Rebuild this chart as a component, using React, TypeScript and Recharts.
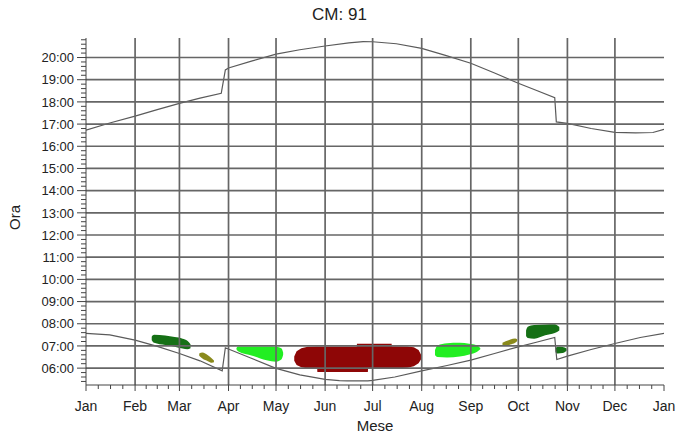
import {
  ComposedChart,
  Line,
  Area,
  XAxis,
  YAxis,
  ReferenceLine,
} from 'recharts'

// Month starts (day of year) and labels
const monthDays = [0, 31, 59, 90, 120, 151, 181, 212, 243, 273, 304, 334, 365]
const monthLabels = ['Jan', 'Feb', 'Mar', 'Apr', 'May', 'Jun', 'Jul', 'Aug', 'Sep', 'Oct', 'Nov', 'Dec', 'Jan']

// Hour grid and labels
const hourTicks = [6, 7, 8, 9, 10, 11, 12, 13, 14, 15, 16, 17, 18, 19, 20]
const hourLabels = ['06:00', '07:00', '08:00', '09:00', '10:00', '11:00', '12:00', '13:00', '14:00', '15:00', '16:00', '17:00', '18:00', '19:00', '20:00']

// Upper curve (sunset)
const sunsetDays = [0, 15, 31, 45, 59, 72, 85.4, 88, 90, 105, 120, 135, 151, 166, 175, 181, 196, 212, 227, 243, 258, 273, 285, 296, 297, 304, 319, 334, 347, 358, 365]
const sunsetHours = [16.73, 17.05, 17.36, 17.65, 17.93, 18.17, 18.39, 19.44, 19.53, 19.85, 20.15, 20.35, 20.52, 20.66, 20.72, 20.71, 20.62, 20.41, 20.1, 19.74, 19.3, 18.84, 18.5, 18.19, 17.1, 17.03, 16.8, 16.63, 16.6, 16.62, 16.76]

// Lower curve (sunrise)
const sunriseDays = [0, 15, 31, 45, 59, 72, 86, 88, 104, 120, 135, 151, 160, 165, 178, 181, 195, 212, 228, 243, 258, 273, 285, 296, 297.3, 304, 319, 334, 350, 365]
const sunriseHours = [7.57, 7.5, 7.26, 6.98, 6.66, 6.33, 5.88, 6.92, 6.46, 5.99, 5.7, 5.49, 5.44, 5.43, 5.43, 5.45, 5.6, 5.88, 6.12, 6.36, 6.66, 6.96, 7.18, 7.38, 6.39, 6.54, 6.84, 7.11, 7.38, 7.57]

// Blobs: day, low, high
const febGreenDays = [41.5, 43, 50, 56, 61, 64, 66]
const febGreenHigh = [7.42, 7.5, 7.47, 7.4, 7.33, 7.24, 7.08]
const febGreenLow = [7.26, 7.14, 7.04, 6.96, 6.88, 6.85, 6.9]

const marOliveDays = [71.5, 73.5, 77, 79.5, 80.8]
const marOliveHigh = [6.66, 6.7, 6.58, 6.44, 6.34]
const marOliveLow = [6.56, 6.43, 6.31, 6.24, 6.26]

const aprLimeDays = [95, 96, 105, 114, 120, 123.5, 124.5]
const aprLimeHigh = [6.9, 6.98, 6.98, 6.98, 6.96, 6.88, 6.7]
const aprLimeLow = [6.85, 6.76, 6.56, 6.35, 6.29, 6.4, 6.6]

const summerRedDays = [131.5, 133, 136, 140, 146, 146.1, 171, 171.1, 178, 178.1, 193, 193.1, 203, 207, 210, 212]
const summerRedHigh = [6.52, 6.76, 6.9, 6.96, 6.98, 6.98, 6.98, 7.1, 7.1, 7.1, 7.1, 6.99, 6.98, 6.94, 6.82, 6.55]
const summerRedLow = [6.33, 6.14, 6.04, 5.98, 5.96, 5.83, 5.83, 5.83, 5.83, 5.97, 5.98, 5.98, 6.02, 6.08, 6.22, 6.45]

const augLimeDays = [220.4, 222, 228, 236, 242, 247, 249]
const augLimeHigh = [6.82, 7.02, 7.12, 7.14, 7.1, 7.02, 6.9]
const augLimeLow = [6.58, 6.5, 6.48, 6.52, 6.62, 6.74, 6.85]

const sepOliveDays = [263, 265, 268, 271, 272.3]
const sepOliveHigh = [7.14, 7.21, 7.29, 7.34, 7.3]
const sepOliveLow = [7.04, 7.0, 7.06, 7.14, 7.22]

const octGreenDays = [277.9, 279, 283, 290, 296, 298.9]
const octGreenHigh = [7.7, 7.86, 7.94, 7.97, 7.98, 7.85]
const octGreenLow = [7.45, 7.36, 7.33, 7.48, 7.58, 7.7]

const novGreenDays = [296.5, 298, 301, 303.5]
const novGreenHigh = [6.9, 6.96, 6.95, 6.88]
const novGreenLow = [6.72, 6.66, 6.68, 6.78]

const toLine = (days: number[], hours: number[]) => days.map((d, i) => ({ d, h: hours[i] }))
const toRange = (days: number[], low: number[], high: number[]) =>
  days.map((d, i) => ({ d, r: [low[i], high[i]] }))

const blobs = [
  { data: toRange(febGreenDays, febGreenLow, febGreenHigh), color: '#157015', type: 'monotone' },
  { data: toRange(marOliveDays, marOliveLow, marOliveHigh), color: '#8a8a1c', type: 'monotone' },
  { data: toRange(aprLimeDays, aprLimeLow, aprLimeHigh), color: '#22ee22', type: 'monotone' },
  { data: toRange(summerRedDays, summerRedLow, summerRedHigh), color: '#8e0606', type: 'linear' },
  { data: toRange(augLimeDays, augLimeLow, augLimeHigh), color: '#22ee22', type: 'monotone' },
  { data: toRange(sepOliveDays, sepOliveLow, sepOliveHigh), color: '#8a8a1c', type: 'monotone' },
  { data: toRange(octGreenDays, octGreenLow, octGreenHigh), color: '#157015', type: 'monotone' },
  { data: toRange(novGreenDays, novGreenLow, novGreenHigh), color: '#157015', type: 'monotone' },
]

// tick positions: months split in quarters, hours split in fifths
const xTicks: number[] = []
for (let i = 0; i < 12; i++) {
  const len = monthDays[i + 1] - monthDays[i]
  for (let k = 0; k < 4; k++) xTicks.push(monthDays[i] + (k * len) / 4)
}
xTicks.push(365)

const Y_MIN = 5.24
const Y_MAX = 20.88
const yTicks: number[] = []
for (let v = 27; v <= 104; v++) yTicks.push(Math.round(v * 2) / 10)

const font = '"Liberation Sans", Arial, sans-serif'

const XTick = (props: any) => {
  const { x, y, payload } = props
  const idx = monthDays.indexOf(payload.value)
  const major = idx >= 0
  return (
    <g>
      <line x1={x} x2={x} y1={y} y2={y + (major ? 6 : 4)} stroke="#444" strokeWidth={1} />
      {major && (
        <text x={x} y={y + 26} textAnchor="middle" fontSize={14} fill="#222" fontFamily={font}>
          {monthLabels[idx]}
        </text>
      )}
    </g>
  )
}

const YTick = (props: any) => {
  const { x, y, payload } = props
  const idx = hourTicks.indexOf(payload.value)
  const major = idx >= 0
  return (
    <g>
      <line x1={x - (major ? 9 : 5)} x2={x} y1={y} y2={y} stroke="#444" strokeWidth={1} />
      {major && (
        <text x={x - 12} y={y} dy="0.36em" textAnchor="end" fontSize={13} fill="#222" fontFamily={font}>
          {hourLabels[idx]}
        </text>
      )}
    </g>
  )
}

const OraLabel = (props: any) => {
  const { viewBox } = props
  const cx = 15
  const cy = viewBox.y + viewBox.height / 2 + 6
  return (
    <text x={cx} y={cy} transform={`rotate(-90 ${cx} ${cy})`} textAnchor="middle" dy="0.36em" fontSize={15} fill="#222" fontFamily={font}>
      Ora
    </text>
  )
}

export default function App() {
  return (
    <div style={{ position: 'absolute', left: 0, top: 0, width: 679, height: 439, background: '#fff' }}>
      <div
        style={{
          position: 'absolute',
          left: 0,
          top: 5,
          width: 679,
          textAlign: 'center',
          fontFamily: font,
          fontSize: 17,
          color: '#222',
        }}
      >
        CM: 91
      </div>
      <ComposedChart width={679} height={439} margin={{ top: 38, right: 15, bottom: 0, left: 0 }}>
        <XAxis
          dataKey="d"
          type="number"
          domain={[0, 365]}
          ticks={xTicks}
          interval={0}
          tick={<XTick />}
          tickSize={0}
          tickMargin={0}
          tickLine={false}
          axisLine={{ stroke: '#444' }}
          height={54}
          allowDataOverflow
          label={{ value: 'Mese', position: 'insideBottom', offset: 8, style: { fontSize: 15, fill: '#222', fontFamily: font } }}
        />
        <YAxis
          type="number"
          domain={[Y_MIN, Y_MAX]}
          ticks={yTicks}
          interval={0}
          tick={<YTick />}
          tickSize={0}
          tickMargin={0}
          tickLine={false}
          axisLine={{ stroke: '#444' }}
          width={86}
          allowDataOverflow
          label={<OraLabel />}
        />
        {blobs.map((b, i) => (
          <Area
            key={i}
            data={b.data}
            dataKey="r"
            type={b.type as any}
            stroke="none"
            fill={b.color}
            fillOpacity={1}
            isAnimationActive={false}
          />
        ))}
        <Line data={toLine(sunsetDays, sunsetHours)} dataKey="h" type="linear" stroke="#5a5a5a" strokeWidth={1.2} dot={false} isAnimationActive={false} />
        <Line data={toLine(sunriseDays, sunriseHours)} dataKey="h" type="linear" stroke="#5a5a5a" strokeWidth={1.2} dot={false} isAnimationActive={false} />
        {hourTicks.map((h) => (
          <ReferenceLine key={'h' + h} y={h} stroke="#666" strokeWidth={1.7} />
        ))}
        {monthDays.slice(1, 12).map((d) => (
          <ReferenceLine key={'m' + d} x={d} stroke="#666" strokeWidth={1.7} />
        ))}
      </ComposedChart>
    </div>
  )
}
